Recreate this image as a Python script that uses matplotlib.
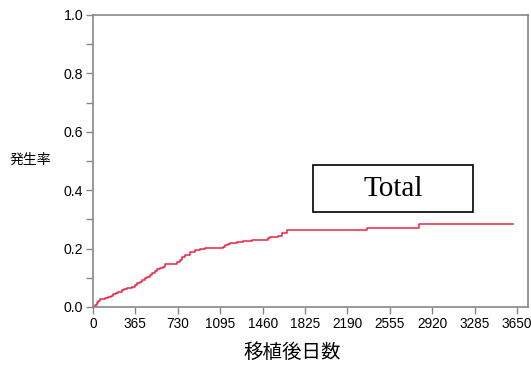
import matplotlib
matplotlib.use("Agg")
import matplotlib.pyplot as plt

days = [0, 15, 32, 45, 60, 80, 103, 132, 155, 175, 198, 218, 247, 270, 290, 333, 361, 383, 404,
        425, 447, 468, 490, 512, 534, 555, 577, 600, 620, 725, 745, 763, 792, 835, 878, 921, 964,
        1115, 1136, 1158, 1179, 1240, 1294, 1366, 1510, 1523, 1595, 1623, 1667, 2361, 2808, 3617]
rate = [0.0, 0.007, 0.013, 0.020, 0.026, 0.028, 0.030, 0.035, 0.039, 0.043, 0.047, 0.050, 0.058,
        0.061, 0.064, 0.067, 0.074, 0.081, 0.087, 0.092, 0.098, 0.104, 0.111, 0.117, 0.123, 0.129,
        0.132, 0.136, 0.146, 0.155, 0.162, 0.170, 0.178, 0.189, 0.194, 0.199, 0.201, 0.206, 0.212,
        0.216, 0.219, 0.223, 0.226, 0.230, 0.236, 0.240, 0.244, 0.253, 0.262, 0.270, 0.284, 0.284]
xticks = [0, 365, 730, 1095, 1460, 1825, 2190, 2555, 2920, 3285, 3650]
yticks = [0.0, 0.2, 0.4, 0.6, 0.8, 1.0]
label_text = "Total"

fig = plt.figure(figsize=(5.31, 3.65), dpi=100)
W, H = 531, 365
ax = fig.add_axes([93 / W, 1 - 307 / H, (528 - 93) / W, (307 - 15) / H])
ax.step(days, rate, where="post", color="#ee2244", lw=1.1)
ax.set_xlim(0, 3744)
ax.set_ylim(0, 1.0)
ax.set_xticks(xticks)
ax.set_yticks(yticks)
ax.set_yticks([0.1, 0.3, 0.5, 0.7, 0.9], minor=True)
ax.set_xticklabels([str(t) for t in xticks], fontsize=9.8, family="Liberation Sans")
ax.set_yticklabels([f"{t:.1f}" for t in yticks], fontsize=10.2, family="Liberation Sans")
for s in ax.spines.values():
    s.set_color("#888888")
    s.set_linewidth(1.2)
ax.tick_params(which="both", direction="out", color="#888888", length=5, width=1)
ax.tick_params(axis="both", pad=2)

fig.text(10 / W, 1 - 160 / H, "発生率", family=["Noto Sans CJK JP", "DejaVu Sans"], fontsize=10,
         ha="left", va="center")
fig.text(292 / W, 1 - 352 / H, "移植後日数", family=["Noto Sans CJK JP", "DejaVu Sans"], fontsize=14,
         ha="center", va="center")

fig.patches.append(plt.Rectangle((313 / W, 1 - 212 / H), 160 / W, 47 / H, transform=fig.transFigure,
                                 fill=False, edgecolor="black", lw=1.2, figure=fig))
fig.text(393 / W, 1 - 189 / H, label_text, family="Liberation Serif", fontsize=21,
         ha="center", va="center")

fig.savefig("out.png", dpi=100)
